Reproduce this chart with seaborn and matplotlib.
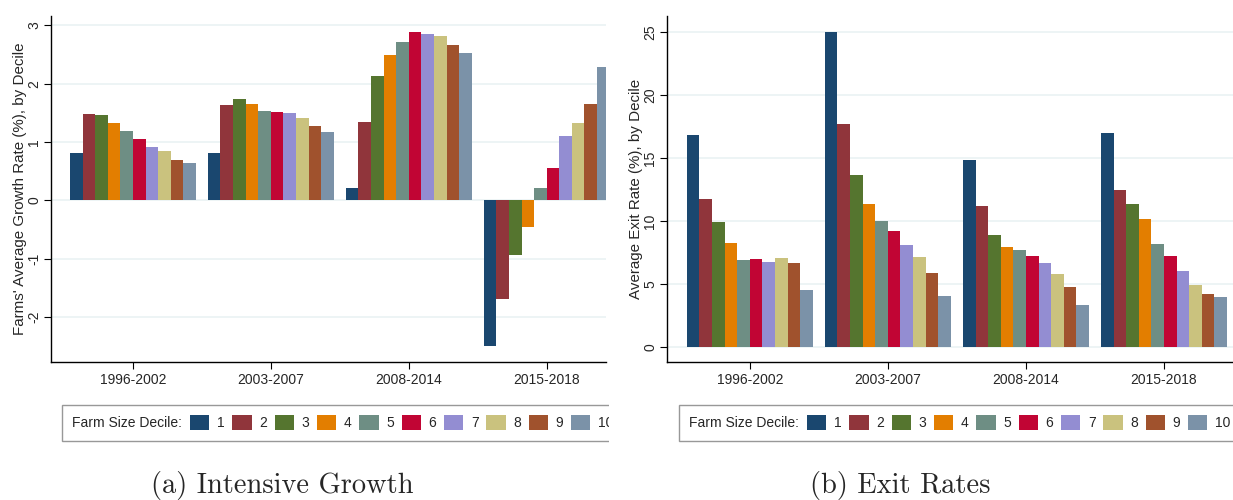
import numpy as np
import pandas as pd
import matplotlib
matplotlib.use('Agg')
import matplotlib.pyplot as plt
import seaborn as sns
from matplotlib.patches import Patch, Rectangle

# datos
periodos = ['1996-2002', '2003-2007', '2008-2014', '2015-2018']
deciles = [str(i) for i in range(1, 11)]

crecimiento_96 = [0.82, 1.48, 1.47, 1.32, 1.19, 1.06, 0.91, 0.85, 0.69, 0.64]
crecimiento_03 = [0.82, 1.63, 1.73, 1.66, 1.53, 1.51, 1.49, 1.42, 1.28, 1.18]
crecimiento_08 = [0.22, 1.34, 2.13, 2.50, 2.72, 2.89, 2.86, 2.81, 2.67, 2.53]
crecimiento_15 = [-2.50, -1.69, -0.93, -0.46, 0.22, 0.56, 1.11, 1.32, 1.65, 2.29]

salida_96 = [16.83, 11.80, 9.97, 8.27, 6.92, 6.97, 6.79, 7.05, 6.65, 4.51]
salida_03 = [25.05, 17.74, 13.68, 11.35, 10.05, 9.20, 8.14, 7.13, 5.86, 4.03]
salida_08 = [14.87, 11.19, 8.93, 7.98, 7.69, 7.26, 6.71, 5.83, 4.77, 3.37]
salida_15 = [16.97, 12.46, 11.37, 10.21, 8.17, 7.24, 6.07, 4.96, 4.24, 3.95]

# paleta s2color de Stata
colores = ['#1a476f', '#90353b', '#55752f', '#e37e00', '#6e8e84',
           '#c10534', '#938dd2', '#cac27e', '#a0522d', '#7b92a8']


def armar_df(series):
    filas = []
    for periodo, vals in zip(periodos, series):
        for dec, v in zip(deciles, vals):
            filas.append({'periodo': periodo, 'decil': dec, 'valor': v})
    return pd.DataFrame(filas)


df_crec = armar_df([crecimiento_96, crecimiento_03, crecimiento_08, crecimiento_15])
df_sal = armar_df([salida_96, salida_03, salida_08, salida_15])

sns.set_style('white')
plt.rcParams['font.family'] = ['Liberation Sans', 'DejaVu Sans']

W, H = 1233, 500
fig = plt.figure(figsize=(W / 100, H / 100), dpi=100)
ax1 = fig.add_axes([51 / W, 1 - 362 / H, 555 / W, 346 / H])
ax2 = fig.add_axes([667 / W, 1 - 362 / H, 566 / W, 346 / H])


def dibujar(ax, df, ylabel, yticks, ylim, xlim):
    sns.barplot(data=df, x='periodo', y='valor', hue='decil', palette=colores,
                saturation=1, width=0.913, linewidth=0, ax=ax, legend=False,
                zorder=2)
    ax.set_ylim(*ylim)
    ax.set_xlim(*xlim)
    ax.set_yticks(yticks)
    ax.set_yticklabels([str(t) for t in yticks], rotation=90, va='center')
    ax.set_xlabel('')
    ax.set_ylabel(ylabel, fontsize=10.9, labelpad=0.5)
    ax.yaxis.grid(True, color='#eaf2f3', linewidth=1.2, zorder=0)
    ax.xaxis.grid(False)
    for lado in ['top', 'right']:
        ax.spines[lado].set_visible(False)
    for lado in ['left', 'bottom']:
        ax.spines[lado].set_color('black')
        ax.spines[lado].set_linewidth(1)
    ax.tick_params(axis='y', pad=2)
    ax.tick_params(axis='x', pad=3)
    ax.tick_params(axis='both', which='both', direction='out', length=5,
                   width=0.8, color='black', labelsize=10,
                   left=True, bottom=True)


dibujar(ax1, df_crec, "Farms' Average Growth Rate (%), by Decile",
        [-2, -1, 0, 1, 2, 3], (-2.77, 3.16), (-0.594, 3.43))
dibujar(ax2, df_sal, 'Average Exit Rate (%), by Decile',
        [0, 5, 10, 15, 20, 25], (-1.19, 26.3), (-0.60, 3.50))


def leyenda(x0):
    handles = [Patch(visible=False)] + [Patch(facecolor=c, edgecolor='none') for c in colores]
    labels = ['Farm Size Decile:'] + deciles
    leg = fig.legend(handles, labels, ncol=11, loc='upper left',
                     bbox_to_anchor=(x0 / W, 1 - 405 / H), frameon=True,
                     fancybox=False, edgecolor='#7f7f7f', fontsize=10,
                     borderpad=0.75, handlelength=1.4, handleheight=1.2,
                     handletextpad=0.54, columnspacing=0.55, borderaxespad=0)
    leg.get_frame().set_linewidth(1)
    # quitar el hueco del primer handle (el titulo va pegado al borde)
    col0 = leg._legend_handle_box.get_children()[0]
    item = col0.get_children()[0]
    item.get_children()[0].width = 0
    item.sep = 0
    return leg


leyenda(62)
leyenda(679)

# recorte del panel izquierdo
fig.patches.append(Rectangle((609 / W, 0.1), 58 / W, 0.12, transform=fig.transFigure,
                             facecolor='white', edgecolor='none', zorder=20))

fig.text(282 / W, 1 - 485 / H, '(a) Intensive Growth', ha='center', va='center',
         fontsize=20.5, family='cmr10')
fig.text(900 / W, 1 - 485 / H, '(b) Exit Rates', ha='center', va='center',
         fontsize=20.5, family='cmr10')

fig.savefig('out.png', dpi=100)
